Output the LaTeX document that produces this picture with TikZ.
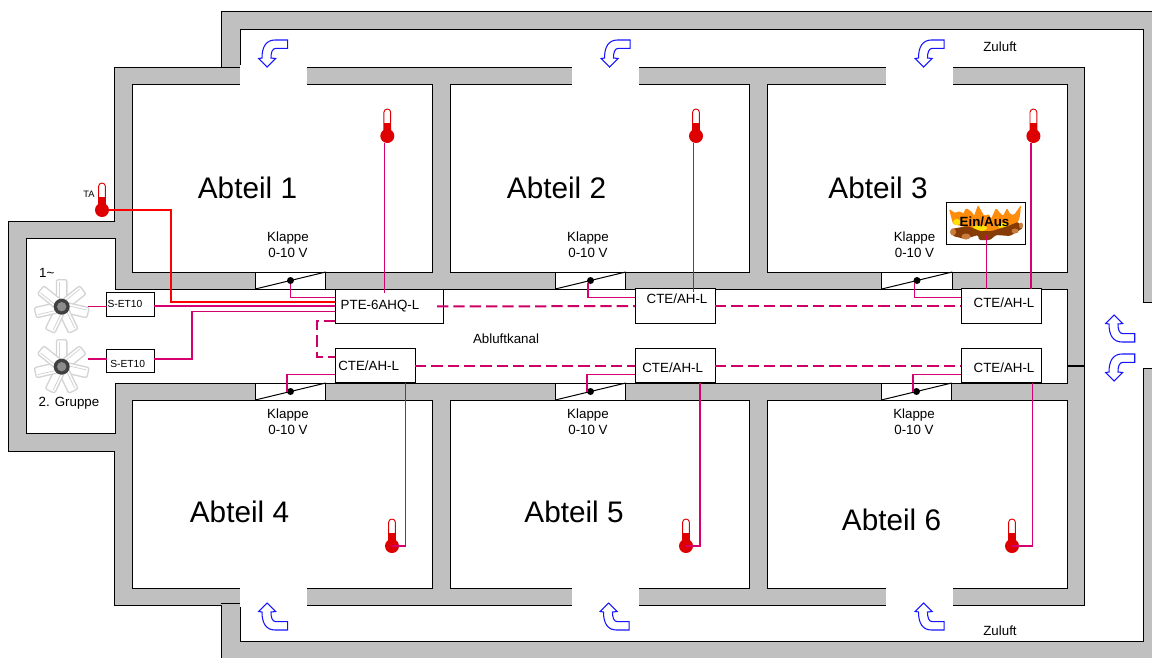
\documentclass[tikz,border=0pt]{standalone}
\usepackage{fontspec}
\usepackage{xcolor}
\usepackage{tikz}
\setmainfont{Liberation Sans}
\usetikzlibrary{positioning, shapes.geometric}
\definecolor{wall}{RGB}{192,192,192}
\definecolor{wirec}{RGB}{214,0,110}
\definecolor{dashc}{RGB}{204,0,102}
\definecolor{thermc}{RGB}{222,0,0}
\definecolor{bladec}{RGB}{212,212,212}
\definecolor{flowc}{RGB}{20,20,255}
\definecolor{flame}{RGB}{255,140,10}
\definecolor{logc}{RGB}{135,60,5}
\definecolor{logend}{RGB}{200,125,60}

\begin{document}
\begin{tikzpicture}[x=0.75pt, y=-0.75pt,
	line/.style = {draw=black, line width=0.75pt},
	box/.style = {draw=black, line width=0.75pt, fill=white, inner sep=0pt, outer sep=0pt},
	ptebox/.style = {box, minimum width=81pt, minimum height=25.9pt},
	ctebox/.style = {box, minimum width=60pt, minimum height=25.9pt},
	setbox/.style = {box, minimum width=35.6pt, minimum height=17.5pt},
	firebox/.style = {box, minimum width=59pt, minimum height=31.5pt},
	kbox/.style = {box, minimum width=52.9pt, minimum height=12.75pt},
	dot/.style = {circle, fill=black, inner sep=0pt, outer sep=0pt, minimum size=5.25pt},
	wire/.style = {draw=wirec, line width=0.85pt},
	netz/.style = {draw=dashc, line width=1.5pt, dash pattern=on 8.5pt off 3.75pt},
	ta wire/.style = {draw=red, line width=1.15pt},
	txt/.style = {inner sep=0pt, font=\fontsize{10}{12}\selectfont},
	smalltxt/.style = {inner sep=0pt, font=\fontsize{7.7}{9}\selectfont},
	abteil/.style = {inner sep=0pt, font=\fontsize{22.3}{26}\selectfont},
	klappe/.pic = {
		\node[kbox] (-box) {};
		\draw[line] (-box.south west) -- (-box.north east);
		\node[dot] (-dot) {};
	},
	thermo/.pic = {
		\draw[draw=thermc, line width=0.7pt, fill=white, rounded corners=2.5pt] (-3.4,-5) -- (-3.4,-27) -- (3.4,-27) -- (3.4,-5);
		\fill[thermc] (-3.7,-12.7) rectangle (3.7,0);
		\node[circle, fill=thermc, inner sep=0pt, outer sep=0pt, minimum size=10.5pt] (-bulb) {};
	},
	fan/.pic = {
		\foreach \a in {90,38.6,-12.9,-64.3,-115.7,-167.1,141.4} {
			\draw[draw=bladec, line width=1pt, fill=white, rounded corners=1.5pt, rotate=\a] (4,-5.2) rectangle (27,5.2);
			\draw[draw=bladec, line width=0.6pt, rotate=\a] (6,-2.4) -- (25,-2.4);
		}
		\node[circle, fill=black!75, inner sep=0pt, minimum size=12pt] (-hub) {};
		\node[circle, fill=black!45, inner sep=0pt, minimum size=7pt] (-core) {};
	},
	flow/.pic = {
		\draw[draw=flowc, line width=0.8pt, fill=white] (0,0) -- (-8.3,-8.5) -- (-5,-9) .. controls (-5,-20) and (-1,-27) .. (8,-27) -- (20.7,-27) -- (20.7,-18.7) -- (9,-18.7) .. controls (5,-18.7) and (4,-14) .. (4,-9) -- (8.7,-8.5) -- cycle;
	}]
	\useasboundingbox (0,0) rectangle (1152,657);
	\clip (0,0) rectangle (1152,657);

	\draw[line, fill=wall] (221,11) -- (1160,11) -- (1160,665) -- (221,665) -- (221,605) -- (114.5,605) -- (114.5,451) -- (8,451) -- (8,221) -- (114.5,221) -- (114.5,67) -- (221,67) -- cycle;
	\draw[line] (221,67) -- (240,67);
	\draw[line] (221,603) -- (240,603);
	\draw[line, fill=white] (240,29) -- (1143,29) -- (1143,302) -- (1160,302) -- (1160,368) -- (1143,368) -- (1143,641) -- (240,641) -- (240,605) -- (1084.5,605) -- (1084.5,67) -- (240,67) -- cycle;
	\draw[line, fill=white] (26,238) -- (115,238) -- (115,289) -- (1067,289) -- (1067,383) -- (115,383) -- (115,433) -- (26,433) -- cycle;
	\draw[line, line width=1.4pt] (1067,366) -- (1085,366);

	\draw[line, fill=white] (132,84) rectangle (432,272);
	\draw[line, fill=white] (450,84) rectangle (749,272);
	\draw[line, fill=white] (767,84) rectangle (1067,272);
	\draw[line, fill=white] (132,400) rectangle (432,588);
	\draw[line, fill=white] (450,400) rectangle (749,588);
	\draw[line, fill=white] (767,400) rectangle (1067,588);

	\fill[white] (240,65) rectangle (307,85.5);
	\fill[white] (572,65) rectangle (639,85.5);
	\fill[white] (886,65) rectangle (953,85.5);
	\fill[white] (240,587) rectangle (307,607);
	\fill[white] (572,587) rectangle (639,607);
	\fill[white] (886,587) rectangle (953,607);

	\pic (f1) at (267,67) {flow};
	\pic (f2) at (609.5,67) {flow};
	\pic (f3) at (923.5,67) {flow};
	\pic[yscale=-1] (f4) at (267,603) {flow};
	\pic[yscale=-1] (f5) at (608.5,603) {flow};
	\pic[yscale=-1] (f6) at (923.5,603) {flow};
	\pic[yscale=-1] (f7) at (1114,315) {flow};
	\pic (f8) at (1114,381) {flow};

	\pic (k1) at (290.5,280.5) {klappe};
	\pic (k2) at (590.5,280.5) {klappe};
	\pic (k3) at (917,280.5) {klappe};
	\pic (k4) at (290.5,391.5) {klappe};
	\pic (k5) at (590.5,391.5) {klappe};
	\pic (k6) at (916.5,391.5) {klappe};

	\node[ptebox] (pte) at (389,306.3) {};
	\node[ctebox] (cte2) at (675,306.2) {};
	\node[ctebox] (cte3) at (1001.3,306.2) {};
	\node[ctebox] (cte4) at (375,365.7) {};
	\node[ctebox] (cte5) at (675,365.7) {};
	\node[ctebox] (cte6) at (1001.3,365.7) {};
	\node[setbox] (se1) at (130.5,304.4) {};
	\node[setbox] (se2) at (130.5,361) {};

	\node[firebox] (einaus) at (985.7,223.3) {};
	\fill[flame, rounded corners=1pt] (953,224) -- (949,209) -- (955,213) -- (960,211) -- (963,214) -- (966,208) -- (972,212) -- (974,216) -- (978,205) -- (982,212) -- (984,216) -- (989,214) -- (991,219) -- (996,208) -- (1000,213) -- (1003,216) -- (1007,208) -- (1010,214) -- (1014,215) -- (1021,205) -- (1020,216) -- (1016,228) -- (985,232) -- cycle;
	\fill[yellow!85!orange] (957,222) ellipse (4 and 3);
	\fill[yellow!85!orange] (980,228) ellipse (7 and 3);
	\fill[yellow!85!orange] (1003,226) ellipse (5 and 3);
	\fill[logc, rounded corners=1pt] (951,229) -- (968,226) -- (980,231) -- (992,231) -- (1008,226) -- (1018,222) -- (1023,228) -- (1010,236) -- (996,235) -- (990,240) -- (979,240) -- (978,235) -- (965,239) -- (953,236) -- cycle;
	\fill[logend] (953,232) ellipse (3 and 3.5);
	\fill[logend] (966,236.5) ellipse (4.5 and 3);
	\fill[logend] (1015,231) ellipse (3.5 and 2.5);
	\fill[logend] (1021,225.5) ellipse (2 and 3);

	\pic (ta) at (102,210) {thermo};
	\pic (t1) at (387.3,136) {thermo};
	\pic (t2) at (696,136) {thermo};
	\pic (t3) at (1033.4,136) {thermo};
	\pic (t4) at (392,546) {thermo};
	\pic (t5) at (686,546) {thermo};
	\pic (t6) at (1012,546) {thermo};

	\pic (fan1) at (61.7,306.7) {fan};
	\pic (fan2) at (61.7,366.7) {fan};
	\coordinate (fan1out) at (88,306.5);
	\coordinate (fan2out) at (88,359);

	\draw[ta wire] (ta-bulb.east) -| (171,302) -- (pte.west |- 0,302);
	\draw[wire] (fan1out) -- (fan1out -| se1.west);
	\draw[wire] (fan2out) -- (fan2out -| se2.west);
	\draw[wire] (se1.east |- 0,306) -- (pte.west |- 0,306);
	\draw[wire] (se2.east |- 0,359) -| (192,311.6) -- (pte.west |- 0,311.6);

	\draw[wire] (k1-dot) |- (pte.west |- 0,297.5);
	\draw[wire] (k2-dot.south west) |- (cte2.west |- 0,297.5);
	\draw[wire] (k3-dot.south west) |- (cte3.west |- 0,297.5);
	\draw[wire] (cte4.west |- 0,374.4) -| (k4-dot.west);
	\draw[wire] (cte5.west |- 0,374.4) -| (k5-dot.west);
	\draw[wire] (cte6.west |- 0,374.4) -| (k6-dot.west);

	\draw[wire] (t1-bulb.250) -- (t1-bulb.250 |- 0,293);
	\draw[wire] (t2-bulb.250) -- (t2-bulb.250 |- 0,292);
	\draw[wire] (t3-bulb.250) -- (t3-bulb.250 |- cte3.north);
	\draw[wire] (cte4.south -| 405.3,0) |- (t4-bulb.center);
	\draw[wire] (cte5.south -| 700,0) |- (t5-bulb.center);
	\draw[wire] (cte6.south -| 1032.3,0) |- (t6-bulb.center);
	\draw[wire] (cte3.north -| 986.3,0) -- (986.3,235);

	\draw[netz] ([xshift=-4.5pt]pte.east) -- (cte2.west);
	\draw[netz] (cte2.east) -- (cte3.west);
	\draw[netz] (cte4.east) -- (cte5.west);
	\draw[netz] (cte5.east) -- (cte6.west);
	\draw[netz] (pte.west |- 0,320.5) -| (317,357) -- (cte4.west |- 0,357);

	\node[abteil] (a1) at (247.5,188) {Abteil 1};
	\node[abteil] (a2) at (556.5,188) {Abteil 2};
	\node[abteil] (a3) at (878,188) {Abteil 3};
	\node[abteil] (a4) at (239.5,512) {Abteil 4};
	\node[abteil] (a5) at (574,512) {Abteil 5};
	\node[abteil] (a6) at (891.5,520) {Abteil 6};

	\node[txt, align=center] (l1) at (288,245) {Klappe\\0-10 V};
	\node[txt, align=center] (l2) at (588,245) {Klappe\\0-10 V};
	\node[txt, align=center] (l3) at (914.5,245) {Klappe\\0-10 V};
	\node[txt, align=center] (l4) at (288,421.5) {Klappe\\0-10 V};
	\node[txt, align=center] (l5) at (588,421.5) {Klappe\\0-10 V};
	\node[txt, align=center] (l6) at (914,421.5) {Klappe\\0-10 V};

	\node[txt] (ptel) at (380,305.7) {PTE-6AHQ-L};
	\node[txt] (cte2l) at (677,299) {CTE/AH-L};
	\node[txt] (cte3l) at (1004,302.3) {CTE/AH-L};
	\node[txt] (cte4l) at (368.7,365.3) {CTE/AH-L};
	\node[txt] (cte5l) at (672.7,367.3) {CTE/AH-L};
	\node[txt] (cte6l) at (1004,367.3) {CTE/AH-L};
	\node[smalltxt] (se1l) at (125,303.5) {S-ET10};
	\node[smalltxt] (se2l) at (127.7,363.7) {S-ET10};

	\node[txt] (kanal) at (506,339) {Abluftkanal};
	\node[txt] (zu1) at (1000,47) {Zuluft};
	\node[txt] (zu2) at (1000,631) {Zuluft};
	\node[txt] (eins) at (46.7,272.7) {1\char`~};
	\node[txt] (gruppe) at (69,403) {2. Gruppe};
	\node[inner sep=0pt, font=\fontsize{7}{8}\selectfont] (tal) at (89,194) {TA};
	\node[txt, font=\fontsize{10}{12}\selectfont\bfseries] (einausl) at (984.5,222) {Ein/Aus};
\end{tikzpicture}
\end{document}
